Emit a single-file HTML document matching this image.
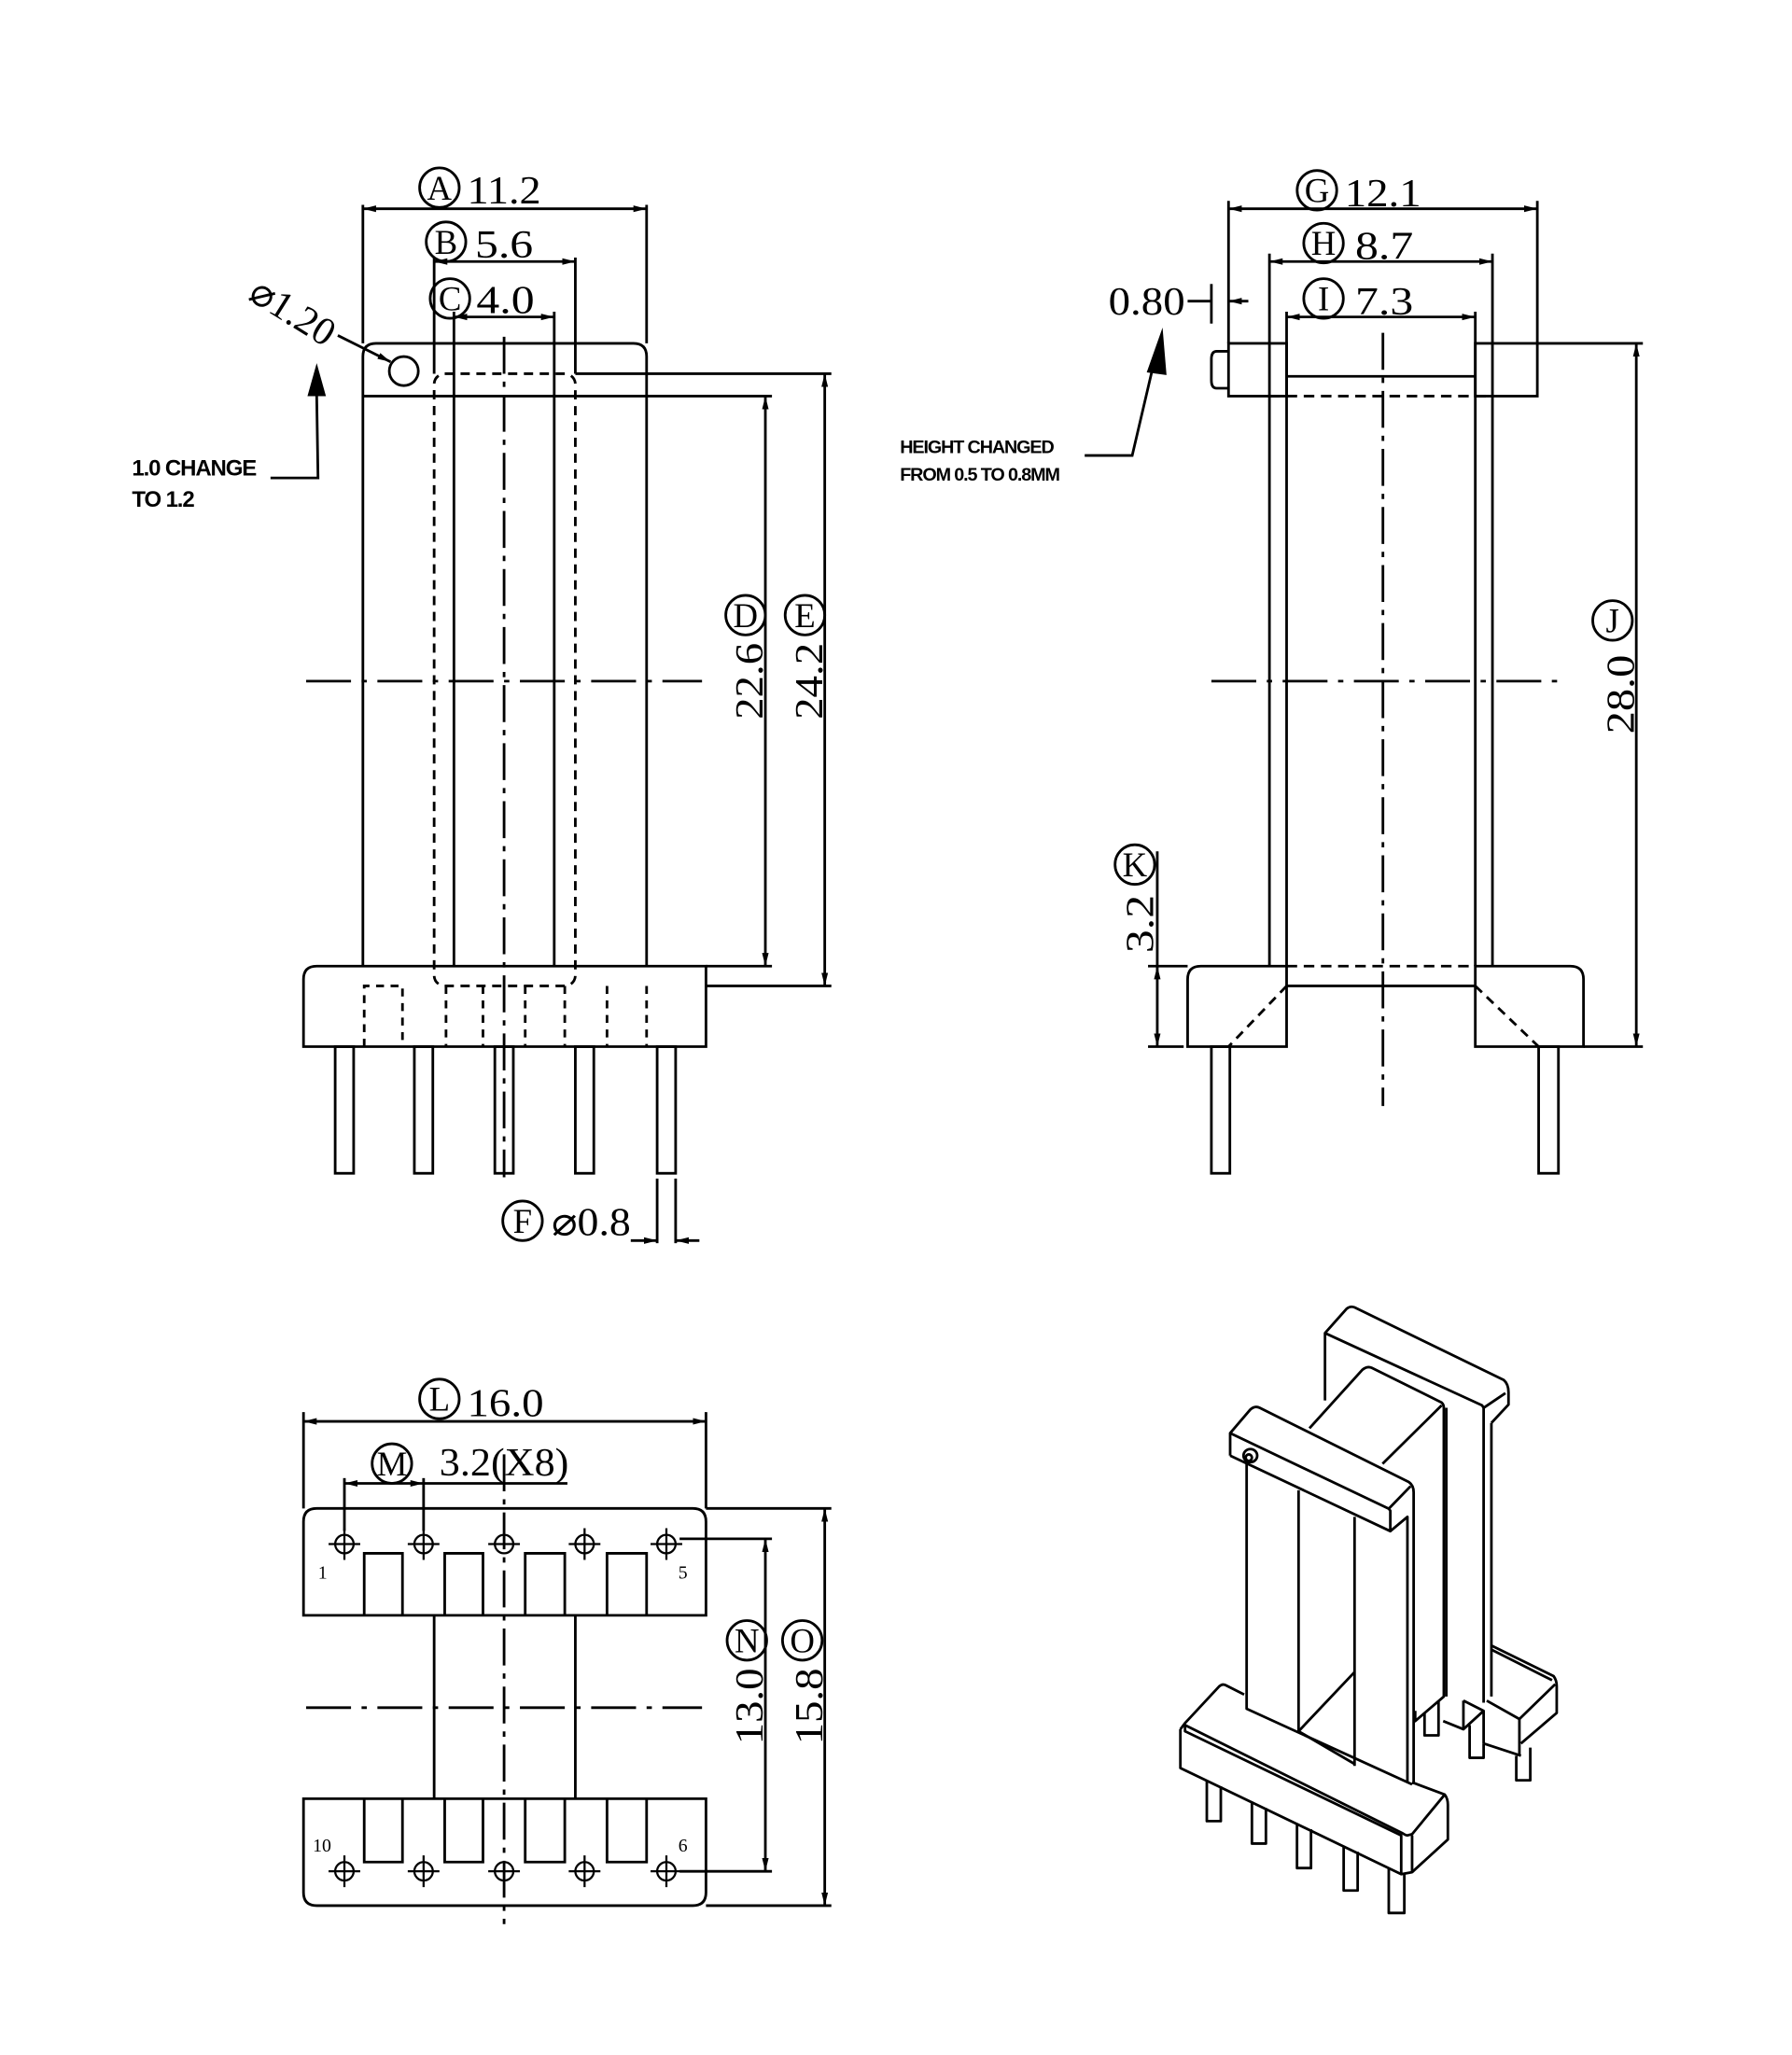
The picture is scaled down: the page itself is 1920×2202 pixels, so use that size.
<!DOCTYPE html>
<html><head><meta charset="utf-8"><style>
html,body{margin:0;padding:0;background:#fff;}
svg{display:block;}
text{font-family:"Liberation Serif",serif;fill:#000;}
.b text{font-family:"Liberation Sans",sans-serif;font-weight:bold;}
</style></head><body>
<svg width="1920" height="2202" viewBox="0 0 1358 1557" xmlns="http://www.w3.org/2000/svg">
<defs>
<marker id="a" viewBox="0 0 10 6" refX="10" refY="3" markerWidth="10" markerHeight="6" orient="auto-start-reverse" markerUnits="userSpaceOnUse"><path d="M0,0.5 L10,3 L0,5.5z" fill="#000"/></marker>
</defs>
<rect width="1358" height="1557" fill="#fff"/>
<g fill="none" stroke="#000" stroke-width="2">
<!-- ===== TOP LEFT VIEW ===== -->
<path d="M275,732 V270 Q275,260 285,260 H480 Q490,260 490,270 V732"/>
<line x1="275" y1="300" x2="490" y2="300"/>
<line x1="344" y1="300" x2="344" y2="732"/>
<line x1="420" y1="300" x2="420" y2="732"/>
<circle cx="306" cy="281" r="11"/>
<rect x="329" y="283" width="107" height="464" rx="8" stroke-dasharray="7 5"/>
<path d="M230,793 V742 Q230,732 240,732 H535 V793 Z"/>
<g stroke-dasharray="6 5">
<path d="M276,793 V747 H305 V793"/>
<line x1="338" y1="747" x2="338" y2="793"/><line x1="366" y1="747" x2="366" y2="793"/>
<line x1="398" y1="747" x2="398" y2="793"/><line x1="428" y1="747" x2="428" y2="793"/>
<line x1="460" y1="747" x2="460" y2="793"/><line x1="490" y1="747" x2="490" y2="793"/>
</g>
<rect x="254" y="793" width="14" height="96"/>
<rect x="314" y="793" width="14" height="96"/>
<rect x="375" y="793" width="14" height="96"/>
<rect x="436" y="793" width="14" height="96"/>
<rect x="498" y="793" width="14" height="96"/>
<line x1="382" y1="255" x2="382" y2="892" stroke-dasharray="28 6 4 6"/>
<line x1="232" y1="516" x2="532" y2="516" stroke-dasharray="34 8 4 8"/>
<!-- dims -->
<line x1="275" y1="155" x2="275" y2="260"/><line x1="490" y1="155" x2="490" y2="260"/>
<line x1="275" y1="158" x2="490" y2="158" marker-start="url(#a)" marker-end="url(#a)"/>
<line x1="329" y1="195" x2="329" y2="283"/><line x1="436" y1="195" x2="436" y2="283"/>
<line x1="329" y1="198" x2="436" y2="198" marker-start="url(#a)" marker-end="url(#a)"/>
<line x1="344" y1="236" x2="344" y2="300"/><line x1="420" y1="236" x2="420" y2="300"/>
<line x1="344" y1="240" x2="420" y2="240" marker-start="url(#a)" marker-end="url(#a)"/>
<circle cx="333" cy="142" r="15"/><circle cx="338" cy="183" r="15"/><circle cx="341" cy="226" r="15"/>
<line x1="256" y1="254" x2="296" y2="274" marker-end="url(#a)"/>
<polyline points="205,362 241,362 240,300"/>
<line x1="436" y1="283" x2="630" y2="283"/><line x1="490" y1="300" x2="585" y2="300"/>
<line x1="535" y1="732" x2="585" y2="732"/><line x1="535" y1="747" x2="630" y2="747"/>
<line x1="580" y1="300" x2="580" y2="732" marker-start="url(#a)" marker-end="url(#a)"/>
<line x1="625" y1="283" x2="625" y2="747" marker-start="url(#a)" marker-end="url(#a)"/>
<circle cx="565" cy="466" r="15"/><circle cx="610" cy="466" r="15"/>
<line x1="498" y1="893" x2="498" y2="942"/><line x1="512" y1="893" x2="512" y2="942"/>
<line x1="478" y1="940" x2="498" y2="940" marker-end="url(#a)"/>
<line x1="530" y1="940" x2="512" y2="940" marker-end="url(#a)"/>
<circle cx="396" cy="925" r="15"/>

<!-- ===== TOP RIGHT VIEW ===== -->
<rect x="931" y="260" width="44" height="40"/>
<path d="M931,266 H922 Q918,266 918,272 V288 Q918,294 922,294 H931"/>
<rect x="1118" y="260" width="47" height="40"/>
<line x1="975" y1="285" x2="1118" y2="285"/>
<line x1="962" y1="300" x2="1131" y2="300" stroke-dasharray="8 5"/>
<line x1="962" y1="300" x2="962" y2="732"/><line x1="975" y1="300" x2="975" y2="732"/>
<line x1="1118" y1="300" x2="1118" y2="732"/><line x1="1131" y1="300" x2="1131" y2="732"/>
<path d="M900,793 V742 Q900,732 910,732 H975 V793 Z"/>
<path d="M1118,793 V732 H1190 Q1200,732 1200,742 V793 Z"/>
<line x1="975" y1="732" x2="1118" y2="732" stroke-dasharray="8 5"/>
<line x1="975" y1="747" x2="1118" y2="747"/>
<line x1="975" y1="747" x2="931" y2="793" stroke-dasharray="7 5"/>
<line x1="1118" y1="747" x2="1166" y2="793" stroke-dasharray="7 5"/>
<rect x="918" y="793" width="14" height="96"/>
<rect x="1166" y="793" width="15" height="96"/>
<line x1="1048" y1="252" x2="1048" y2="838" stroke-dasharray="28 6 4 6"/>
<line x1="918" y1="516" x2="1182" y2="516" stroke-dasharray="34 8 4 8"/>
<line x1="931" y1="152" x2="931" y2="260"/><line x1="1165" y1="152" x2="1165" y2="260"/>
<line x1="931" y1="158" x2="1165" y2="158" marker-start="url(#a)" marker-end="url(#a)"/>
<line x1="962" y1="192" x2="962" y2="300"/><line x1="1131" y1="192" x2="1131" y2="300"/>
<line x1="962" y1="198" x2="1131" y2="198" marker-start="url(#a)" marker-end="url(#a)"/>
<line x1="975" y1="236" x2="975" y2="300"/><line x1="1118" y1="236" x2="1118" y2="300"/>
<line x1="975" y1="240" x2="1118" y2="240" marker-start="url(#a)" marker-end="url(#a)"/>
<circle cx="998" cy="144" r="15"/><circle cx="1003" cy="184" r="15"/><circle cx="1003" cy="226" r="15"/>
<line x1="900" y1="228" x2="918" y2="228"/><line x1="918" y1="215" x2="918" y2="245"/>
<line x1="946" y1="228" x2="931" y2="228" marker-end="url(#a)"/>
<polyline points="822,345 858,345 876,268"/>
<line x1="1165" y1="260" x2="1245" y2="260"/><line x1="1200" y1="793" x2="1245" y2="793"/>
<line x1="1240" y1="260" x2="1240" y2="793" marker-start="url(#a)" marker-end="url(#a)"/>
<circle cx="1222" cy="470" r="15"/>
<line x1="870" y1="732" x2="900" y2="732"/><line x1="870" y1="793" x2="897" y2="793"/>
<line x1="877" y1="645" x2="877" y2="732"/>
<line x1="877" y1="732" x2="877" y2="793" marker-start="url(#a)" marker-end="url(#a)"/>
<circle cx="860" cy="655" r="15"/>

<!-- ===== BOTTOM LEFT VIEW ===== -->
<path d="M230,1224 V1153 Q230,1143 240,1143 H525 Q535,1143 535,1153 V1224 Z"/>
<path d="M230,1363 V1434 Q230,1444 240,1444 H525 Q535,1444 535,1434 V1363 Z"/>
<line x1="329" y1="1224" x2="329" y2="1363"/><line x1="436" y1="1224" x2="436" y2="1363"/>
<path d="M276,1224 V1177 H305 V1224 M337,1224 V1177 H366 V1224 M398,1224 V1177 H428 V1224 M460,1224 V1177 H490 V1224"/>
<path d="M276,1363 V1411 H305 V1363 M337,1363 V1411 H366 V1363 M398,1363 V1411 H428 V1363 M460,1363 V1411 H490 V1363"/>
<g stroke-width="1.6">
<circle cx="261" cy="1170" r="7"/><circle cx="321" cy="1170" r="7"/><circle cx="382" cy="1170" r="7"/><circle cx="443" cy="1170" r="7"/><circle cx="505" cy="1170" r="7"/>
<circle cx="261" cy="1418" r="7"/><circle cx="321" cy="1418" r="7"/><circle cx="382" cy="1418" r="7"/><circle cx="443" cy="1418" r="7"/><circle cx="505" cy="1418" r="7"/>
<path d="M249,1170h24M261,1158v24M309,1170h24M321,1158v24M370,1170h24M443,1158v24M431,1170h24M493,1170h24M505,1158v24"/>
<path d="M249,1418h24M261,1406v24M309,1418h24M321,1406v24M370,1418h24M443,1406v24M431,1418h24M493,1418h24M505,1406v24"/>
</g>
<line x1="382" y1="1102" x2="382" y2="1458" stroke-dasharray="28 6 4 6"/>
<line x1="232" y1="1294" x2="532" y2="1294" stroke-dasharray="34 8 4 8"/>
<line x1="230" y1="1070" x2="230" y2="1143"/><line x1="535" y1="1070" x2="535" y2="1143"/>
<line x1="230" y1="1077" x2="535" y2="1077" marker-start="url(#a)" marker-end="url(#a)"/>
<circle cx="333" cy="1060" r="15"/>
<line x1="261" y1="1120" x2="261" y2="1160"/><line x1="321" y1="1120" x2="321" y2="1160"/>
<line x1="261" y1="1124" x2="321" y2="1124" marker-start="url(#a)" marker-end="url(#a)"/>
<line x1="321" y1="1124" x2="430" y2="1124"/>
<circle cx="297" cy="1109" r="15"/>
<line x1="515" y1="1166" x2="585" y2="1166"/><line x1="515" y1="1418" x2="585" y2="1418"/>
<line x1="580" y1="1166" x2="580" y2="1418" marker-start="url(#a)" marker-end="url(#a)"/>
<line x1="535" y1="1143" x2="630" y2="1143"/><line x1="535" y1="1444" x2="630" y2="1444"/>
<line x1="625" y1="1143" x2="625" y2="1444" marker-start="url(#a)" marker-end="url(#a)"/>
<circle cx="566" cy="1243" r="15"/><circle cx="608" cy="1243" r="15"/>
</g>
<polygon points="240,275 233,300 247,300" fill="#000"/>
<polygon points="881,248 869,282 884,284" fill="#000"/>

<!-- texts -->
<g font-size="30">
<text x="354" y="154" textLength="56" lengthAdjust="spacingAndGlyphs">11.2</text>
<text x="360" y="195" textLength="44" lengthAdjust="spacingAndGlyphs">5.6</text>
<text x="361" y="237" textLength="44" lengthAdjust="spacingAndGlyphs">4.0</text>
<text x="1019" y="156" textLength="58" lengthAdjust="spacingAndGlyphs">12.1</text>
<text x="1027" y="196" textLength="44" lengthAdjust="spacingAndGlyphs">8.7</text>
<text x="1027" y="238" textLength="44" lengthAdjust="spacingAndGlyphs">7.3</text>
<text x="840" y="238" textLength="58" lengthAdjust="spacingAndGlyphs">0.80</text>
<text x="418" y="936" textLength="60" lengthAdjust="spacingAndGlyphs">⌀0.8</text>
<text x="354" y="1073" textLength="58" lengthAdjust="spacingAndGlyphs">16.0</text>
<text x="333" y="1118" textLength="98" lengthAdjust="spacingAndGlyphs">3.2(X8)</text>
<text transform="translate(578,545) rotate(-90)" textLength="58" lengthAdjust="spacingAndGlyphs">22.6</text>
<text transform="translate(623,545) rotate(-90)" textLength="58" lengthAdjust="spacingAndGlyphs">24.2</text>
<text transform="translate(1238,556) rotate(-90)" textLength="60" lengthAdjust="spacingAndGlyphs">28.0</text>
<text transform="translate(874,722) rotate(-90)" textLength="44" lengthAdjust="spacingAndGlyphs">3.2</text>
<text transform="translate(578,1322) rotate(-90)" textLength="58" lengthAdjust="spacingAndGlyphs">13.0</text>
<text transform="translate(623,1322) rotate(-90)" textLength="58" lengthAdjust="spacingAndGlyphs">15.8</text>
<text transform="translate(187,226) rotate(32)" textLength="70" lengthAdjust="spacingAndGlyphs">⌀1.20</text>
</g>
<g font-size="26" text-anchor="middle">
<text x="333" y="151">A</text><text x="338" y="192">B</text><text x="341" y="235">C</text>
<text x="998" y="153">G</text><text x="1003" y="193">H</text><text x="1003" y="235">I</text>
<text x="565" y="475">D</text><text x="610" y="475">E</text><text x="1222" y="479">J</text>
<text x="860" y="664">K</text><text x="396" y="934">F</text><text x="333" y="1069">L</text>
<text x="297" y="1118">M</text><text x="566" y="1252">N</text><text x="608" y="1252">O</text>
</g>
<g font-size="14">
<text x="241" y="1196">1</text><text x="514" y="1196">5</text>
<text x="237" y="1403">10</text><text x="514" y="1403">6</text>
</g>
<g class="b" font-size="17" style="letter-spacing:-0.8px">
<text x="100" y="360">1.0 CHANGE</text><text x="100" y="384">TO 1.2</text>
</g>
<g class="b" font-size="14" style="letter-spacing:-0.8px">
<text x="682" y="343">HEIGHT CHANGED</text><text x="682" y="364">FROM 0.5 TO 0.8MM</text>
</g>

<!-- ===== ISO VIEW ===== -->
<g transform="translate(883.9,983.8) scale(0.2357,0.3095)" fill="none" stroke="#000" stroke-width="2.8" stroke-linejoin="round">
<g vector-effect="non-scaling-stroke">
<path vector-effect="non-scaling-stroke" d="M510,250 V85 L580,25 Q592,18 605,22 L1085,200 Q1100,210 1100,230 V260 L1045,305"/>
<path vector-effect="non-scaling-stroke" d="M510,85 L1015,262 L1020,268 V990"/>
<path vector-effect="non-scaling-stroke" d="M1020,268 L1090,232"/>
<path vector-effect="non-scaling-stroke" d="M1045,305 V975"/>
<path vector-effect="non-scaling-stroke" d="M1045,850 L1245,925 Q1255,935 1255,950 V1015 L1140,1090"/>
<path vector-effect="non-scaling-stroke" d="M1045,860 L1240,935"/>
<path vector-effect="non-scaling-stroke" d="M1030,985 L1135,1030 L1250,945"/>
<path vector-effect="non-scaling-stroke" d="M1135,1030 V1120"/>
<path vector-effect="non-scaling-stroke" d="M1020,1090 L1140,1120"/>
<path vector-effect="non-scaling-stroke" d="M955,985 V1055 L890,1035 M955,985 L1020,1010 V1090 M955,1055 L1020,1010"/>
<path vector-effect="non-scaling-stroke" d="M460,318 L630,175 Q645,165 660,170 L885,255 Q892,260 892,268 V975 L800,1035 V1010"/>
<path vector-effect="non-scaling-stroke" d="M695,405 L885,262"/>
<path vector-effect="non-scaling-stroke" d="M900,268 V975"/>
<path vector-effect="non-scaling-stroke" d="M205,385 V330 L270,272 Q285,262 300,268 L780,450 Q795,458 795,475 V1190"/>
<path vector-effect="non-scaling-stroke" d="M205,330 L715,515 L720,520 V570 L205,385"/>
<path vector-effect="non-scaling-stroke" d="M720,570 L775,535 V1185"/>
<path vector-effect="non-scaling-stroke" d="M715,515 L785,460"/>
<ellipse vector-effect="non-scaling-stroke" cx="270" cy="385" rx="22" ry="16"/>
<ellipse vector-effect="non-scaling-stroke" cx="265" cy="390" rx="10" ry="8"/>
<path vector-effect="non-scaling-stroke" d="M258,395 V1005 L790,1190"/>
<path vector-effect="non-scaling-stroke" d="M425,470 V1060 L605,1140"/>
<path vector-effect="non-scaling-stroke" d="M605,535 V1145"/>
<path vector-effect="non-scaling-stroke" d="M425,1060 L605,915"/>
<path vector-effect="non-scaling-stroke" d="M45,1055 L60,1040 L170,950 Q180,943 190,947 L250,970"/>
<path vector-effect="non-scaling-stroke" d="M60,1045 L760,1310 Q770,1315 775,1315 L790,1312 L895,1215 Q905,1225 905,1240 V1325 L790,1405"/>
<path vector-effect="non-scaling-stroke" d="M790,1185 L895,1215"/>
<path vector-effect="non-scaling-stroke" d="M45,1055 V1150 L755,1410 L790,1405 V1315"/>
<path vector-effect="non-scaling-stroke" d="M60,1045 V1060 L755,1315 V1410"/>
<path vector-effect="non-scaling-stroke" d="M130,1180 V1280 H175 V1195"/>
<path vector-effect="non-scaling-stroke" d="M275,1232 V1335 H320 V1248"/>
<path vector-effect="non-scaling-stroke" d="M420,1285 V1395 H465 V1300"/>
<path vector-effect="non-scaling-stroke" d="M570,1340 V1450 H615 V1355"/>
<path vector-effect="non-scaling-stroke" d="M715,1395 V1505 H765 V1410"/>
<path vector-effect="non-scaling-stroke" d="M830,1015 V1070 H875 V985"/>
<path vector-effect="non-scaling-stroke" d="M975,1045 V1125 H1020 V1090"/>
<path vector-effect="non-scaling-stroke" d="M1125,1120 V1180 H1170 V1100"/>
</g>
</g>
</svg>
</body></html>
